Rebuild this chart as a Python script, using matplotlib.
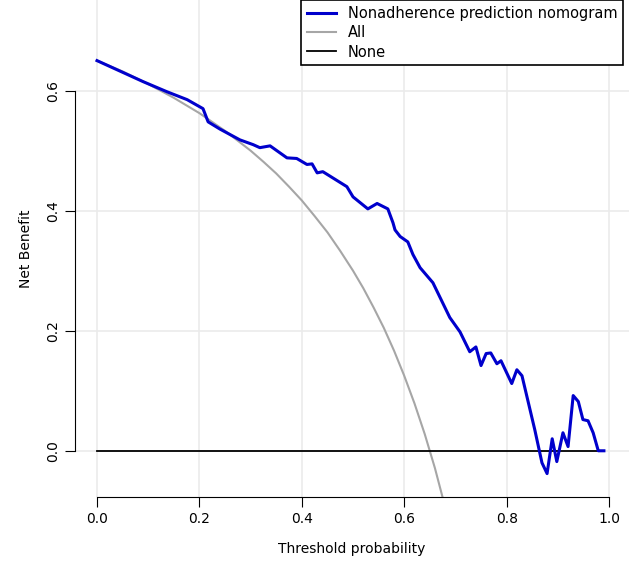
import matplotlib
matplotlib.use("Agg")
import matplotlib.pyplot as plt

thr_model = [0.0,0.09,0.137,0.176,0.207,0.217,0.24,0.279,0.305,0.318,0.338,0.371,0.39,0.41,0.42,0.43,0.441,0.488,0.5,0.529,0.547,0.568,0.578,
             0.582,0.592,0.607,0.617,0.631,0.656,0.689,0.709,0.728,0.74,0.75,0.76,0.769,0.781,0.789,0.81,0.82,0.83,0.855,0.869,0.879,0.889,0.898,0.91,0.92,0.93,0.94,0.949,0.959,0.969,0.979,0.99]
nb_model = [0.65,0.615,0.598,0.585,0.57,0.548,0.536,0.518,0.51,0.505,0.508,0.488,0.487,0.477,0.478,0.463,0.465,0.44,0.423,0.403,0.412,0.403,0.38,
            0.368,0.357,0.348,0.327,0.305,0.28,0.222,0.198,0.165,0.173,0.142,0.162,0.163,0.145,0.15,0.112,0.135,0.125,0.035,-0.02,-0.038,0.02,-0.018,0.03,0.007,0.092,0.082,0.052,0.05,0.03,0.0,0.0]
thr_all = [0.0,0.05,0.1,0.15,0.2,0.25,0.3,0.325,0.35,0.375,0.4,0.425,0.45,0.475,0.5,0.52,0.54,0.56,0.58,0.6,0.62,0.64,0.66,0.68]
nb_all = [0.65,0.632,0.611,0.588,0.5625,0.533,0.5,0.4815,0.462,0.44,0.417,0.391,0.364,0.333,0.30,0.271,0.239,0.205,0.167,0.125,0.079,0.028,-0.029,-0.094]
thr_none = [0.0,0.99]
nb_none = [0.0,0.0]
xticks = [0.0,0.2,0.4,0.6,0.8,1.0]
yticks = [0.0,0.2,0.4,0.6]

fig = plt.figure(figsize=(6.32,5.79), dpi=100)
ax = fig.add_axes([75/632, 82/579, 554/632, 497/579])
ax.set_xlim(-0.043, 1.039)
ax.set_ylim(-0.077, 0.751)
for t in xticks:
    ax.axvline(t, color='#ebebeb', lw=1.2, zorder=0)
for t in yticks:
    ax.axhline(t, color='#ebebeb', lw=1.2, zorder=0)
ax.plot(thr_all, nb_all, color='#a6a6a6', lw=1.5, label='All')
ax.plot(thr_none, nb_none, color='black', lw=1.3, label='None')
ax.plot(thr_model, nb_model, color='#0000cc', lw=2.2, label='Nonadherence prediction nomogram')
for s in ['top','right']:
    ax.spines[s].set_visible(False)
ax.spines['left'].set_bounds(0, 0.6)
ax.spines['bottom'].set_bounds(0, 1.0)
ax.set_xticks(xticks)
ax.set_yticks(yticks)
ax.set_xticklabels([f"{t:.1f}" for t in xticks])
ax.set_yticklabels([f"{t:.1f}" for t in yticks], rotation=90, va='center')
ax.tick_params(length=7, labelsize=10)
ax.set_xlabel('Threshold probability', fontsize=10, labelpad=12)
ax.set_ylabel('Net Benefit', fontsize=10, labelpad=10)
h, l = ax.get_legend_handles_labels()
leg = ax.legend([h[2], h[0], h[1]], [l[2], l[0], l[1]], loc='upper right', fontsize=10.5,
                fancybox=False, edgecolor='black', framealpha=1, borderaxespad=0.0,
                bbox_to_anchor=(0.99, 1.0), labelspacing=0.3)
leg.get_frame().set_linewidth(1.2)
fig.savefig('out.png', dpi=100)
